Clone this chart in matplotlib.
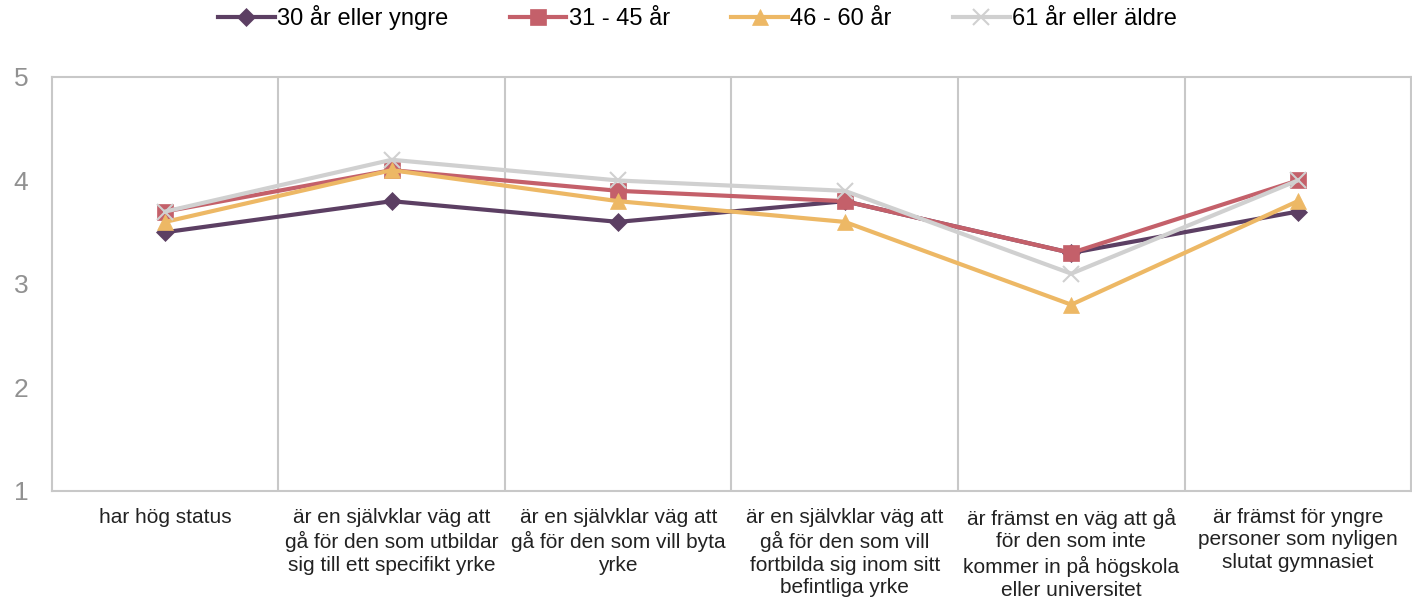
import numpy as np
import matplotlib
matplotlib.use("Agg")
import matplotlib.pyplot as plt

plt.rcParams['font.family'] = ['Liberation Sans', 'DejaVu Sans']

categories = [
    "har hög status",
    "är en självklar väg att\ngå för den som utbildar\nsig till ett specifikt yrke",
    "är en självklar väg att\ngå för den som vill byta\nyrke",
    "är en självklar väg att\ngå för den som vill\nfortbilda sig inom sitt\nbefintliga yrke",
    "är främst en väg att gå\nför den som inte\nkommer in på högskola\neller universitet",
    "är främst för yngre\npersoner som nyligen\nslutat gymnasiet",
]
series_names = ["30 år eller yngre", "31 - 45 år", "46 - 60 år", "61 år eller äldre"]
v_30 = [3.5, 3.8, 3.6, 3.8, 3.3, 3.7]
v_31_45 = [3.7, 4.1, 3.9, 3.8, 3.3, 4.0]
v_46_60 = [3.6, 4.1, 3.8, 3.6, 2.8, 3.8]
v_61 = [3.7, 4.2, 4.0, 3.9, 3.1, 4.0]

colors = ["#5C3F63", "#C4606A", "#EDB865", "#D0D0D0"]
markers = ["D", "s", "^", "x"]
msizes = [9, 11, 12, 11]

fig = plt.figure(figsize=(14.12, 6.0), dpi=100)
ax = fig.add_axes([0.0368, 0.1817, 0.9625, 0.69])

x = np.arange(len(categories))
for vals, name, c, m, ms in zip([v_30, v_31_45, v_46_60, v_61], series_names, colors, markers, msizes):
    ax.plot(x, vals, color=c, lw=3, marker=m, markersize=ms, label=name,
            markeredgewidth=1.5 if m == "x" else 0.5, zorder=3)

ax.set_xlim(-0.5, len(categories) - 0.5)
ax.set_ylim(1, 5)
ax.set_yticks([1, 2, 3, 4, 5])
for b in np.arange(0.5, len(categories) - 0.5):
    ax.axvline(b, color="#C8C8C8", lw=1.5, zorder=1)
for s in ax.spines.values():
    s.set_color("#C8C8C8")
    s.set_linewidth(1.5)

ax.set_xticks(x)
ax.set_xticklabels(categories, fontsize=15, color="#222222", linespacing=1.25)
ax.tick_params(axis="x", length=0, pad=12)
ax.tick_params(axis="y", length=0, pad=17, labelcolor="#919191", labelsize=19)

fig.legend(loc="upper center", bbox_to_anchor=(0.494, 1.027), ncol=4, frameon=False,
           fontsize=17, handlelength=2.4, handletextpad=0.1, columnspacing=2.6)

fig.savefig("out.png", dpi=100)
